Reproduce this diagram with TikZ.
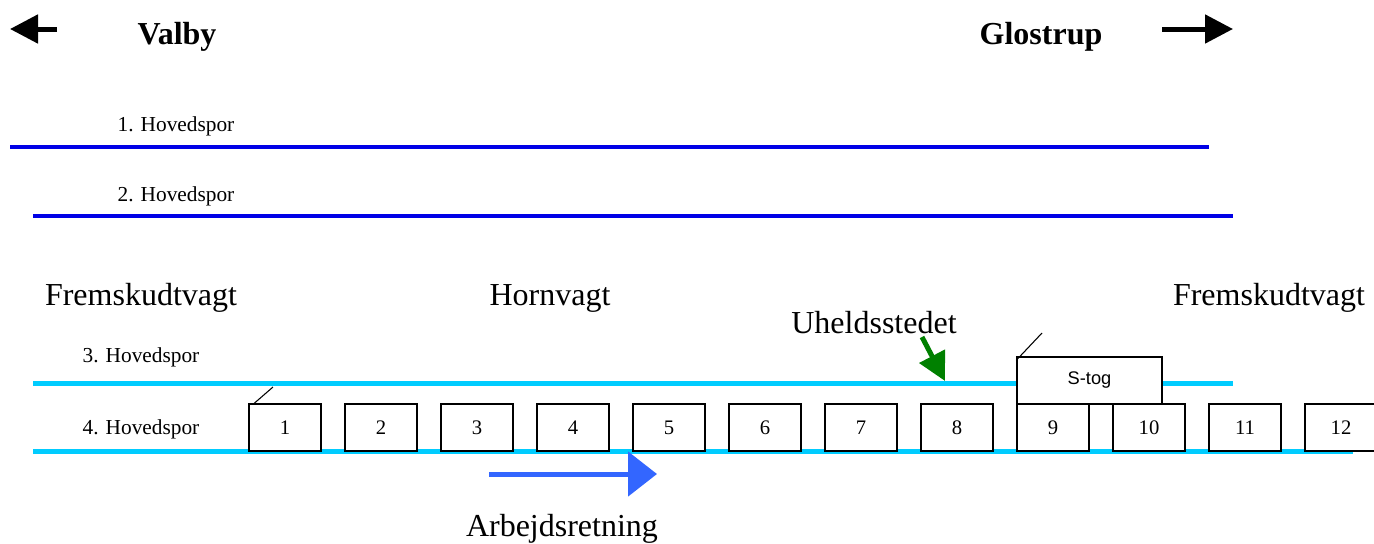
\documentclass[tikz,border=0pt]{standalone}
\usepackage{fontspec}
\setmainfont{Liberation Serif}
\newfontfamily\togfont{Liberation Sans}
\usepackage{tikz}
\usetikzlibrary{arrows.meta, positioning}
\definecolor{sporblaa}{RGB}{0,0,230}
\definecolor{sporcyan}{RGB}{0,204,255}
\definecolor{pilgroen}{RGB}{0,128,0}
\definecolor{pilblaa}{RGB}{51,102,255}

\begin{document}
\begin{tikzpicture}[
    x=0.75pt, y=-0.75pt,
    % Stile for tekst
    station/.style={font=\fontsize{24}{28}\selectfont\bfseries, anchor=base},
    vagt/.style={font=\fontsize{24}{28}\selectfont, anchor=base},
    sporlabel/.style={font=\fontsize{16}{19}\selectfont, anchor=base},
    % Stile for spor og vogne
    hovedspor/.style={line width=3pt, sporblaa},
    sidespor/.style={line width=3.75pt, sporcyan},
    wagon/.style={rectangle, draw=black, line width=1.1pt, fill=white, minimum width=54pt, minimum height=35.25pt, inner sep=0pt, font=\fontsize{15.5}{18}\selectfont},
    stog/.style={rectangle, draw=black, line width=1.1pt, fill=white, minimum width=108.75pt, minimum height=35.25pt, inner sep=0pt, font=\togfont\fontsize{13.7}{16}\selectfont},
    callout/.style={line width=0.8pt, black},
    retning/.style={-{Triangle[length=21pt, width=21pt]}, line width=3.75pt, black}
]
\useasboundingbox (0,0) rectangle (1374,543);

% Retninger
\node[station] (valby) at (177,44) {Valby};
\node[station] (glostrup) at (1041,44) {Glostrup};
\coordinate (vstart) at (57,29);
\coordinate (vend) at (10,29);
\coordinate (gstart) at (1162,29);
\coordinate (gend) at (1233,29);
\draw[retning] (vstart) -- (vend);
\draw[retning] (gstart) -- (gend);

% Hovedspor 1 og 2
\node[sporlabel] (hs1) at (176,131.5) {1. Hovedspor};
\node[sporlabel] (hs2) at (176,201.5) {2. Hovedspor};
\coordinate (s1a) at (10,147);
\coordinate (s1b) at (1209,147);
\coordinate (s2a) at (33,216);
\coordinate (s2b) at (1233,216);
\draw[hovedspor] (s1a) -- (s1b);
\draw[hovedspor] (s2a) -- (s2b);

% Vagter
\node[vagt] (fremv) at (141,305) {Fremskudtvagt};
\node[vagt] (horn) at (550,305) {Hornvagt};
\node[vagt] (fremh) at (1269,305) {Fremskudtvagt};
\node[vagt] (uheld) at (874,333) {Uheldsstedet};

% Hovedspor 3 og 4
\node[sporlabel] (hs3) at (141,362.5) {3. Hovedspor};
\node[sporlabel] (hs4) at (141,434) {4. Hovedspor};
\coordinate (s3a) at (33,383);
\coordinate (s3b) at (1233,383);
\coordinate (s4a) at (33,451);
\coordinate (s4b) at (1353,451);
\draw[sidespor] (s3a) -- (s3b);
\draw[sidespor] (s4a) -- (s4b);

% Vogne
\foreach \i in {1,...,12}
    \node[wagon] (w\i) at ({285+96*(\i-1)},427.5) {\i};
\coordinate (w1tag) at (273,387);
\draw[callout] ([xshift=4.5pt]w1.north west) -- (w1tag);

% S-tog
\node[stog] (stog) at (1089.5,380.5) {S-tog};
\coordinate (stogtag) at (1042,333);
\draw[callout] ([yshift=-3pt]stog.north west) -- (stogtag);

% Uheldssted
\coordinate (gstart2) at (922,337);
\coordinate (uheldpkt) at (945,381);
\draw[-{Triangle[length=21pt, width=21pt]}, line width=3.75pt, pilgroen] (gstart2) -- (uheldpkt);

% Arbejdsretning
\coordinate (astart) at (489,474);
\coordinate (aend) at (657,474);
\draw[-{Triangle[length=21.75pt, width=33pt]}, line width=3.75pt, pilblaa] (astart) -- (aend);
\node[vagt] (arb) at (562,536) {Arbejdsretning};

\end{tikzpicture}
\end{document}
